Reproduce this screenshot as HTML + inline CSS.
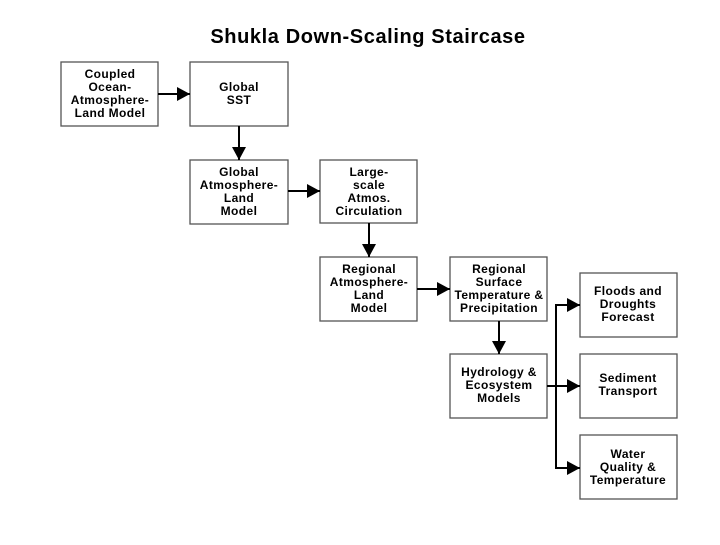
<!DOCTYPE html>
<html><head><style>
body{margin:0;width:720px;height:540px;background:#fff;overflow:hidden}
svg text{font-family:"Liberation Sans",Arial,sans-serif;font-weight:bold;font-size:12px;letter-spacing:0.4px;fill:#000}
</style></head><body>
<svg width="720" height="540" xmlns="http://www.w3.org/2000/svg">
<defs><marker id="a" markerWidth="14" markerHeight="14" refX="13" refY="7" orient="auto" markerUnits="userSpaceOnUse"><path d="M0,0 L13,7 L0,14 Z" fill="#000"/></marker></defs>
<text x="368" y="43" text-anchor="middle" style="font-size:20px;letter-spacing:0.6px">Shukla Down-Scaling Staircase</text>
<g fill="#fff" stroke="#555" stroke-width="1.3">
<rect x="61" y="62" width="97" height="64"/>
<rect x="190" y="62" width="98" height="64"/>
<rect x="190" y="160" width="98" height="64"/>
<rect x="320" y="160" width="97" height="63"/>
<rect x="320" y="257" width="97" height="64"/>
<rect x="450" y="257" width="97" height="64"/>
<rect x="450" y="354" width="97" height="64"/>
<rect x="580" y="273" width="97" height="64"/>
<rect x="580" y="354" width="97" height="64"/>
<rect x="580" y="435" width="97" height="64"/>
</g>
<g stroke="#000" stroke-width="2" fill="none">
<line x1="158" y1="94" x2="190" y2="94" marker-end="url(#a)"/>
<line x1="239" y1="126" x2="239" y2="160" marker-end="url(#a)"/>
<line x1="288" y1="191" x2="320" y2="191" marker-end="url(#a)"/>
<line x1="369" y1="223" x2="369" y2="257" marker-end="url(#a)"/>
<line x1="417" y1="289" x2="450" y2="289" marker-end="url(#a)"/>
<line x1="499" y1="321" x2="499" y2="354" marker-end="url(#a)"/>
<line x1="547" y1="386" x2="580" y2="386" marker-end="url(#a)"/>
<line x1="556" y1="305" x2="556" y2="468"/>
<line x1="555" y1="305" x2="580" y2="305" marker-end="url(#a)"/>
<line x1="555" y1="468" x2="580" y2="468" marker-end="url(#a)"/>
</g>
<g text-anchor="middle">
<text x="110" y="78">Coupled</text><text x="110" y="91">Ocean-</text><text x="110" y="104">Atmosphere-</text><text x="110" y="117">Land Model</text>
<text x="239" y="91">Global</text><text x="239" y="104">SST</text>
<text x="239" y="176">Global</text><text x="239" y="189">Atmosphere-</text><text x="239" y="202">Land</text><text x="239" y="215">Model</text>
<text x="369" y="176">Large-</text><text x="369" y="189">scale</text><text x="369" y="202">Atmos.</text><text x="369" y="215">Circulation</text>
<text x="369" y="273">Regional</text><text x="369" y="286">Atmosphere-</text><text x="369" y="299">Land</text><text x="369" y="312">Model</text>
<text x="499" y="273">Regional</text><text x="499" y="286">Surface</text><text x="499" y="299">Temperature  &amp;</text><text x="499" y="312">Precipitation</text>
<text x="499" y="376">Hydrology &amp;</text><text x="499" y="389">Ecosystem</text><text x="499" y="402">Models</text>
<text x="628" y="295">Floods and</text><text x="628" y="308">Droughts</text><text x="628" y="321">Forecast</text>
<text x="628" y="382">Sediment</text><text x="628" y="395">Transport</text>
<text x="628" y="458">Water</text><text x="628" y="471">Quality &amp;</text><text x="628" y="484">Temperature</text>
</g>
</svg>
</body></html>
